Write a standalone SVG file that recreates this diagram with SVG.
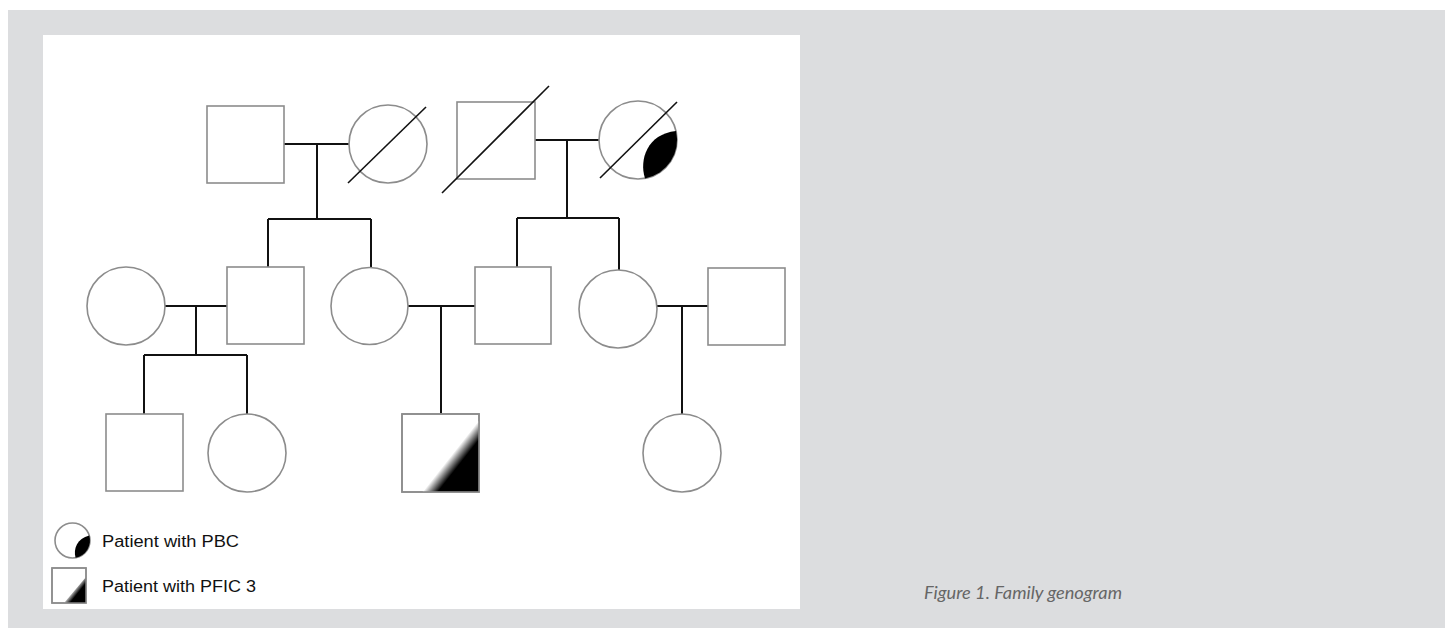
<svg xmlns="http://www.w3.org/2000/svg" width="1451" height="628" viewBox="0 0 1451 628">
<defs>
<style>
.sh{fill:#fff;stroke:#8c8c8c;stroke-width:1.6}
.ln{stroke:#111;stroke-width:2;fill:none}
.sl{stroke:#111;stroke-width:1.6;fill:none}
.lg{font-family:"Liberation Sans",Arial,sans-serif;font-size:16px;fill:#111}
.cap{font-family:Lato,"Open Sans",sans-serif;font-style:italic;font-size:18px;fill:#666}
</style>
<linearGradient id="gp" gradientUnits="userSpaceOnUse" x1="449.8" y1="457.3" x2="459.2" y2="464.7">
<stop offset="0" stop-color="#fff"/><stop offset="1" stop-color="#000"/>
</linearGradient>
<linearGradient id="gl" gradientUnits="userSpaceOnUse" x1="73" y1="589" x2="78" y2="593">
<stop offset="0" stop-color="#fff"/><stop offset="1" stop-color="#000"/>
</linearGradient>
</defs>
<rect x="0" y="0" width="1451" height="628" fill="#fff"/>
<rect x="8" y="10" width="1437" height="618" fill="#dcdddf"/>
<rect x="43" y="35" width="757" height="574" fill="#fff"/>

<g id="connectors">
<path class="ln" d="M284 144H350M317 144V219M268 219H371M268 219V268M371 219V267"/>
<path class="ln" d="M535 140H600M567 140V218M517 218H619M517 218V268M619 218V270"/>
<path class="ln" d="M165 306H227M196 306V355M144 355H247M144 355V414M247 355V414"/>
<path class="ln" d="M408 306H475M441 306V414"/>
<path class="ln" d="M657 306H708M682 306V414"/>
</g>

<g id="n1"><rect class="sh" x="207" y="106" width="77" height="77"/></g>
<g id="n2"><circle class="sh" cx="388" cy="144" r="39"/><line class="sl" x1="348" y1="183" x2="426" y2="107"/></g>
<g id="n3"><rect class="sh" x="457" y="102" width="78" height="77"/><line class="sl" x1="442" y1="193" x2="549" y2="86"/></g>
<g id="n4"><circle class="sh" cx="638" cy="140" r="39"/>
<path d="M676 131A39 39 0 0 1 645 178.4C639 160 647 134 676 131Z" fill="#000"/>
<line class="sl" x1="600" y1="178" x2="677" y2="102"/></g>

<g id="n5"><circle class="sh" cx="126" cy="306" r="39"/></g>
<g id="n6"><rect class="sh" x="227" y="267" width="77" height="77"/></g>
<g id="n7"><circle class="sh" cx="369.5" cy="306" r="38.5"/></g>
<g id="n8"><rect class="sh" x="475" y="267" width="76" height="77"/></g>
<g id="n9"><circle class="sh" cx="618" cy="309" r="39"/></g>
<g id="n10"><rect class="sh" x="708" y="268" width="77" height="77"/></g>

<g id="n11"><rect class="sh" x="106" y="414" width="77" height="77"/></g>
<g id="n12"><circle class="sh" cx="247" cy="453" r="39"/></g>
<g id="n13"><rect class="sh" x="402" y="414" width="77" height="78"/>
<polygon points="422.4,492 479,420.4 479,492" fill="url(#gp)"/>
<rect x="402" y="414" width="77" height="78" fill="none" stroke="#8c8c8c" stroke-width="1.6"/></g>
<g id="n14"><circle class="sh" cx="682" cy="453" r="39"/></g>

<g id="legend">
<circle class="sh" cx="72.5" cy="540.5" r="17.5"/>
<path d="M89.3 535.6A17.5 17.5 0 0 1 75.6 557.7C73 549.5 77 538.3 89.3 535.6Z" fill="#000"/>
<text class="lg" x="102" y="547" textLength="137" lengthAdjust="spacingAndGlyphs">Patient with PBC</text>
<rect class="sh" x="52" y="568" width="34" height="35"/>
<polygon points="64,603 86,577 86,603" fill="url(#gl)"/>
<rect x="52" y="568" width="34" height="35" fill="none" stroke="#8c8c8c" stroke-width="1.4"/>
<text class="lg" x="102" y="592" textLength="154" lengthAdjust="spacingAndGlyphs">Patient with PFIC 3</text>
</g>

<text class="cap" x="924" y="599" textLength="198" lengthAdjust="spacingAndGlyphs">Figure 1. Family genogram</text>
</svg>
